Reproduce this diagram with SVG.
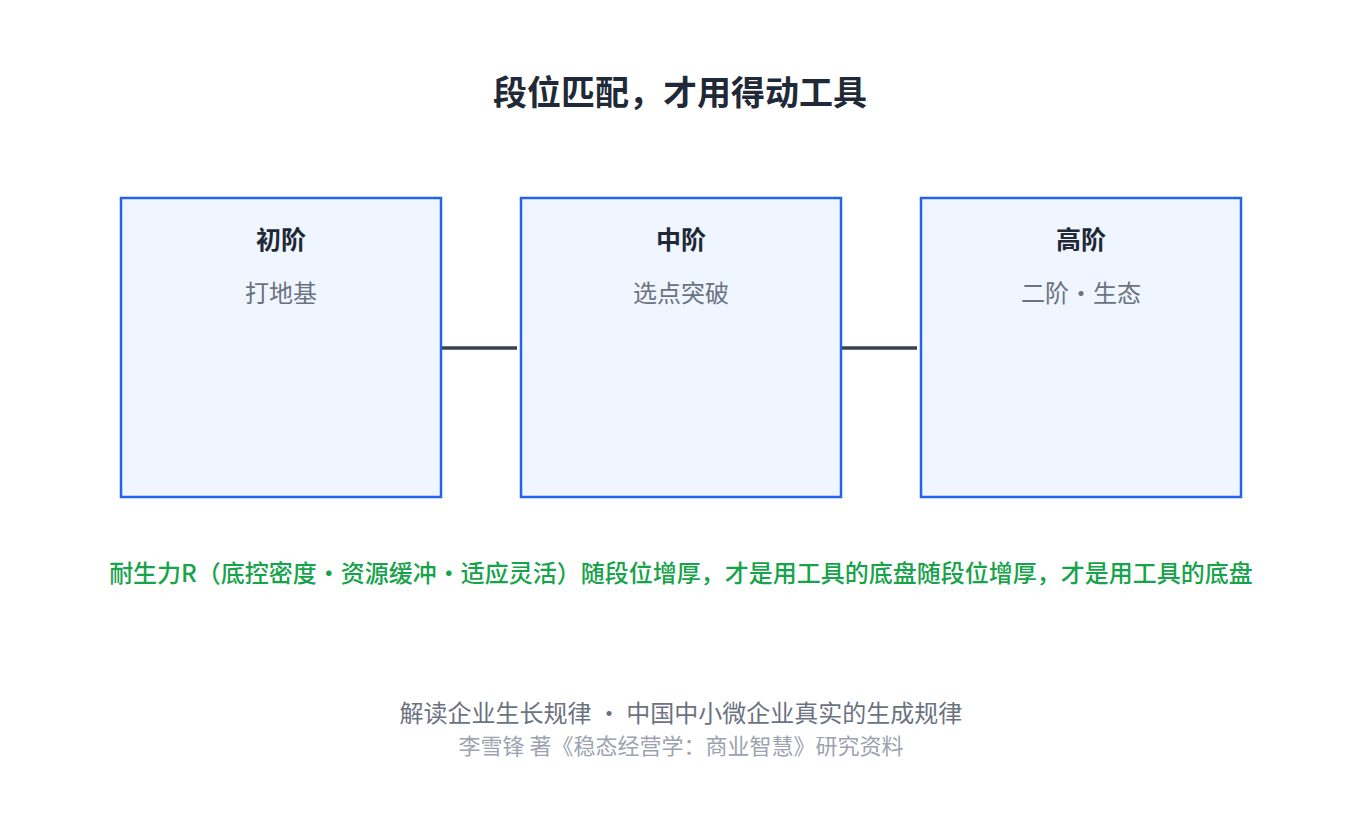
<svg xmlns="http://www.w3.org/2000/svg" width="1360" height="830" viewBox="0 0 1360 830">
<style>
text{font-family:"Noto Sans CJK SC","Noto Sans",sans-serif;text-anchor:middle}
.box{fill:#eff6ff;stroke:#2563eb;stroke-width:2.5}
.h{font-size:25px;font-weight:bold;fill:#1f2937}
.s{font-size:24px;fill:#6b7280}
.c{stroke:#374151;stroke-width:3.5}
</style>
<rect width="1360" height="830" fill="#fff"/>
<text x="680" y="105" font-size="34" font-weight="bold" fill="#1f2937">段位匹配，才用得动工具</text>
<g id="connectors">
<line class="c" x1="441" y1="348" x2="517" y2="348"/>
<line class="c" x1="841" y1="348" x2="917" y2="348"/>
</g>
<g id="n1"><rect class="box" x="121" y="198" width="320" height="299"/><text class="h" x="281" y="249">初阶</text><text class="s" x="281" y="302">打地基</text></g>
<g id="n2"><rect class="box" x="521" y="198" width="320" height="299"/><text class="h" x="681" y="249">中阶</text><text class="s" x="681" y="302">选点突破</text></g>
<g id="n3"><rect class="box" x="921" y="198" width="320" height="299"/><text class="h" x="1081" y="249">高阶</text><text class="s" x="1081" y="302">二阶・生态</text></g>
<text x="681" y="582" font-size="24" font-weight="500" fill="#16a34a">耐生力R（底控密度・资源缓冲・适应灵活）随段位增厚，才是用工具的底盘随段位增厚，才是用工具的底盘</text>
<text x="681" y="722" font-size="24" fill="#6b7280">解读企业生长规律 ・ 中国中小微企业真实的生成规律</text>
<text x="681" y="754" font-size="22" fill="#9ca3af">李雪锋 著《稳态经营学：商业智慧》研究资料</text>
</svg>
